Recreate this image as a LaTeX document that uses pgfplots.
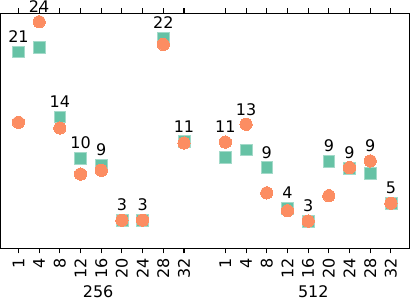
\documentclass[border=0pt]{standalone}
\usepackage{fontspec}
\setmainfont{DejaVu Sans}
\usepackage{pgfplots}
\pgfplotsset{compat=1.18}
\definecolor{sq}{HTML}{66C2A5}
\definecolor{ci}{HTML}{FC8D62}
\begin{document}
\begin{tikzpicture}[font=\fontsize{12}{14.4}\selectfont]
\begin{axis}[
  name=ax,
  scale only axis,
  width=306.5pt, height=176.25pt,
  xmin=-0.86, xmax=18.89,
  ymin=0, ymax=25,
  ytick=\empty,
  xtick={0,1,2,3,4,5,6,7,8,10,11,12,13,14,15,16,17,18},
  xticklabels={1,4,8,12,16,20,24,28,32,1,4,8,12,16,20,24,28,32},
  xticklabel style={rotate=90, anchor=east, inner sep=0pt, font=\fontsize{12}{14.4}\selectfont},
  xticklabel shift=3.5pt,
  tick align=outside,
  major tick length=3.7pt,
  tick style={black, line width=0.8pt},
  axis line style={black, line width=0.8pt},
  clip=false,
]
\addplot[color=sq, only marks, mark=square*, mark size=4.4pt, mark options={solid, fill=sq, draw=sq!60!white, line width=0.4pt}] coordinates {
 (0,20.9) (1,21.4) (2,14.0) (3,9.6) (4,8.9) (5,3.0) (6,3.0) (7,22.4) (8,11.4)
 (10,9.7) (11,10.5) (12,8.6) (13,4.3) (14,2.9) (15,9.3) (16,8.5) (17,8.0) (18,4.8)
};
\addplot[color=ci, only marks, mark=*, mark size=4.6pt, mark options={solid, fill=ci, draw=ci, line width=0pt}] coordinates {
 (0,13.4) (1,24.1) (2,12.8) (3,7.9) (4,8.3) (5,3.0) (6,3.0) (7,21.7) (8,11.2)
 (10,11.3) (11,13.2) (12,5.9) (13,4.0) (14,2.9) (15,5.6) (16,8.6) (17,9.3) (18,4.8)
};
\addplot[draw=none, mark=none, nodes near coords, point meta=explicit symbolic,
  every node near coord/.append style={anchor=center, yshift=11.25pt, inner sep=0pt, black, font=\fontsize{12}{14.4}\selectfont}] coordinates {
 (0,20.9) [21] (1,24.1) [24] (2,14.0) [14] (3,9.6) [10] (4,8.9) [9] (5,3.0) [3] (6,3.0) [3] (7,22.4) [22] (8,11.4) [11]
 (10,11.3) [11] (11,13.2) [13] (12,8.6) [9] (13,4.3) [4] (14,2.9) [3] (15,9.3) [9] (16,8.6) [9] (17,9.3) [9] (18,4.8) [5]
};
\node[anchor=center, inner sep=0pt] at (axis cs:3.85,0) [yshift=-32.3pt] {256};
\node[anchor=center, inner sep=0pt] at (axis cs:14.25,0) [yshift=-32.3pt] {512};
\end{axis}
\pgfresetboundingbox
\path[use as bounding box] ([xshift=-0.5pt,yshift=-38.75pt]ax.south west) rectangle ([xshift=0.5pt,yshift=10pt]ax.north east);
\end{tikzpicture}
\end{document}
